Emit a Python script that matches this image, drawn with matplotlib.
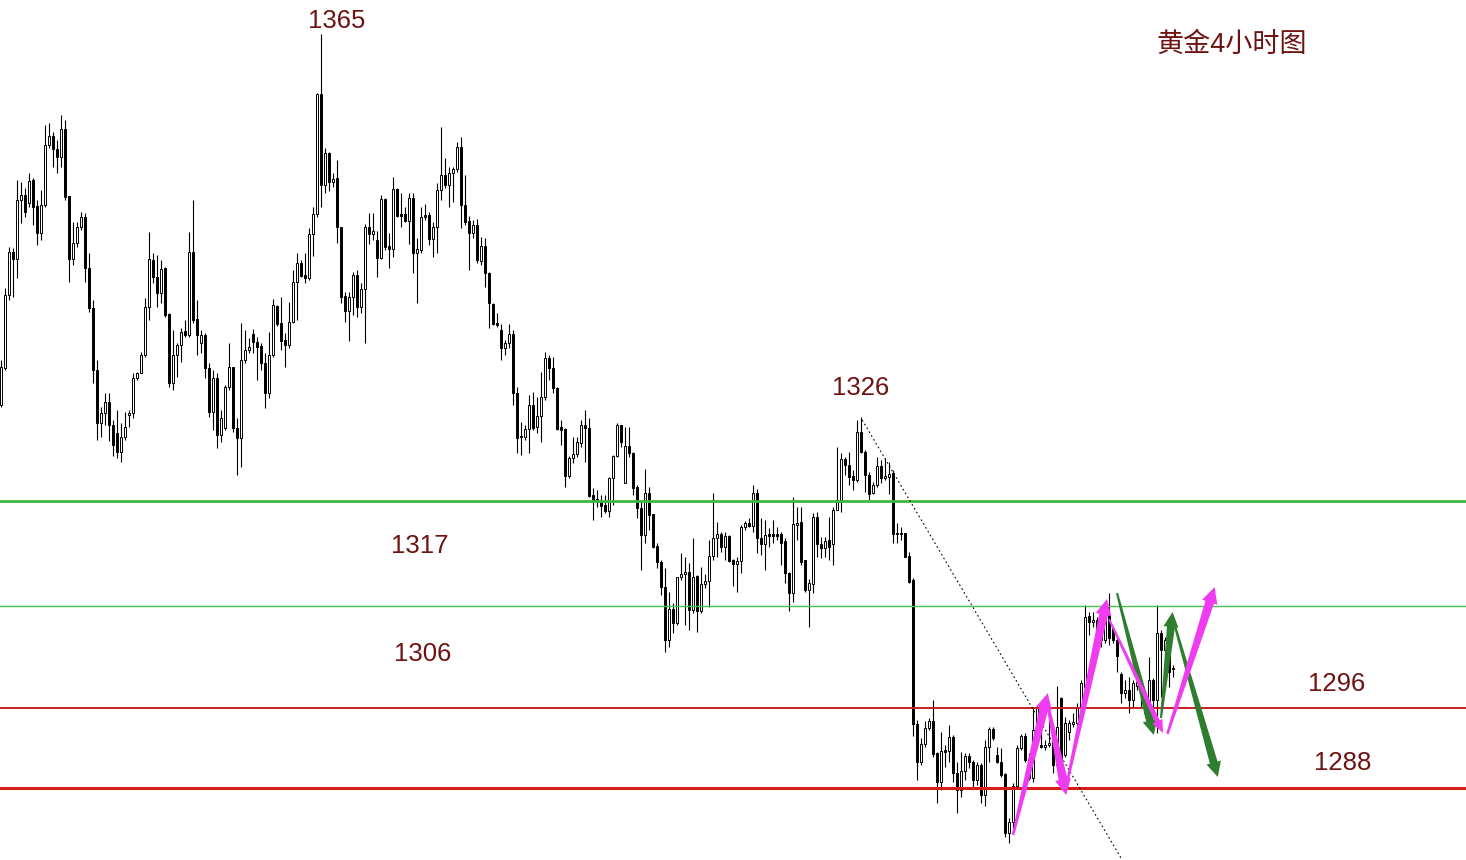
import numpy as np
import matplotlib
matplotlib.use("Agg")
import matplotlib.pyplot as plt
from matplotlib.patches import Polygon

# 4h gold candles (index = bar number)
opens = [
    1326.6, 1330.3, 1337.6, 1341.9, 1341.2, 1347.1, 1347.6, 1346.8, 1349.1, 1346.5,
    1343.8, 1346.6, 1352.6, 1353.5, 1352.2, 1351.4, 1354.2, 1347.5, 1341.2, 1342.8,
    1344.4, 1345.4, 1340.3, 1336.3, 1330.1, 1324.8, 1325.8, 1326.9, 1324.6, 1323.8,
    1321.9, 1323.4, 1325.6, 1325.8, 1329.3, 1329.8, 1331.6, 1336.4, 1341.1, 1339.4,
    1337.8, 1340.3, 1335.7, 1328.8, 1331.6, 1332.6, 1334.0, 1333.6, 1341.9, 1335.2,
    1332.8, 1333.6, 1330.3, 1325.9, 1329.3, 1323.6, 1324.3, 1328.4, 1330.4, 1324.3,
    1323.3, 1331.1, 1332.1, 1333.7, 1332.9, 1332.5, 1330.8, 1327.8, 1331.6, 1336.5,
    1334.8, 1333.1, 1332.6, 1334.9, 1338.9, 1340.8, 1339.6, 1339.3, 1343.7, 1345.7,
    1357.7, 1348.6, 1351.8, 1348.9, 1349.3, 1344.4, 1337.5, 1336.0, 1337.4, 1339.6,
    1336.4, 1338.2, 1344.4, 1343.7, 1343.1, 1341.3, 1347.2, 1342.5, 1342.2, 1348.2,
    1345.7, 1345.7, 1345.0, 1347.3, 1341.8, 1342.1, 1345.6, 1345.6, 1343.2, 1344.4,
    1348.1, 1349.6, 1348.6, 1349.8, 1350.2, 1352.4, 1346.6, 1345.0, 1343.8, 1344.6,
    1341.0, 1342.5, 1339.8, 1336.7, 1334.8, 1334.1, 1332.3, 1332.8, 1333.7, 1327.8,
    1323.5, 1323.4, 1324.2, 1326.6, 1324.4, 1325.5, 1327.4, 1331.3, 1330.3, 1328.3,
    1324.4, 1324.2, 1319.5, 1321.3, 1321.7, 1322.8, 1324.6, 1324.3, 1317.6, 1317.2,
    1317.0, 1316.6, 1316.0, 1319.3, 1321.5, 1324.6, 1318.8, 1322.5, 1321.8, 1318.4,
    1316.3, 1313.6, 1317.8, 1315.7, 1312.5, 1310.9, 1308.4, 1303.1, 1306.2, 1304.8,
    1309.4, 1309.7, 1309.9, 1306.1, 1309.5, 1306.0, 1308.7, 1309.0, 1311.5, 1313.3,
    1313.7, 1312.4, 1313.5, 1311.1, 1310.7, 1311.0, 1314.4, 1314.8, 1314.5, 1317.8,
    1313.3, 1312.7, 1313.7, 1313.7, 1313.7, 1313.7, 1313.0, 1309.8, 1307.8, 1314.6,
    1314.9, 1311.1, 1308.1, 1308.7, 1315.4, 1312.7, 1312.3, 1313.1, 1312.7, 1316.1,
    1317.1, 1321.2, 1320.6, 1319.5, 1319.1, 1323.9, 1321.9, 1319.6, 1317.8, 1318.6,
    1320.5, 1319.3, 1319.4, 1319.8, 1313.8, 1313.8, 1313.8, 1311.5, 1309.1, 1294.7,
    1290.9, 1292.7, 1294.3, 1295.0, 1291.8, 1288.9, 1292.1, 1292.0, 1293.4, 1289.8,
    1288.1, 1290.0, 1291.5, 1290.9, 1289.1, 1290.6, 1287.6, 1292.4, 1294.2, 1291.6,
    1290.9, 1289.7, 1283.8, 1284.9, 1288.5, 1292.3, 1293.5, 1291.2, 1289.3, 1294.1,
    1292.6, 1292.4, 1292.6, 1292.9, 1290.6, 1297.3, 1291.6, 1293.9, 1294.7, 1294.8,
    1296.3, 1298.4, 1305.5, 1304.9, 1305.1, 1304.4, 1303.1, 1305.6, 1304.3, 1303.1,
    1299.7, 1297.8, 1298.1, 1297.1, 1298.5, 1298.9, 1297.8, 1295.8, 1299.1, 1297.1,
    1303.8, 1302.1, 1303.1, 1300.2,
]
highs = [
    1331.1, 1338.3, 1342.4, 1342.3, 1349.1, 1348.9, 1348.3, 1349.8, 1349.3, 1347.1,
    1348.1, 1354.6, 1354.8, 1353.9, 1353.1, 1355.6, 1355.1, 1347.5, 1344.9, 1344.9,
    1345.9, 1345.8, 1341.8, 1337.1, 1331.1, 1326.4, 1327.8, 1327.8, 1325.1, 1326.1,
    1324.8, 1325.9, 1326.1, 1329.8, 1329.9, 1331.9, 1337.3, 1343.9, 1341.8, 1341.6,
    1341.1, 1340.4, 1335.8, 1334.1, 1332.8, 1334.3, 1335.1, 1343.9, 1347.1, 1337.1,
    1334.1, 1333.8, 1330.8, 1330.1, 1329.8, 1326.1, 1328.6, 1332.8, 1330.4, 1325.3,
    1334.8, 1334.1, 1333.3, 1334.2, 1333.4, 1332.8, 1331.8, 1333.9, 1337.2, 1336.6,
    1337.4, 1333.8, 1336.9, 1340.1, 1341.8, 1341.1, 1341.8, 1344.3, 1346.4, 1357.8,
    1363.7, 1352.3, 1351.9, 1349.8, 1351.1, 1344.4, 1337.9, 1337.9, 1339.9, 1340.1,
    1338.8, 1344.7, 1345.8, 1345.8, 1344.0, 1347.6, 1347.3, 1343.8, 1349.4, 1348.3,
    1347.8, 1346.4, 1347.8, 1347.8, 1343.3, 1346.4, 1346.7, 1345.9, 1344.9, 1348.8,
    1354.4, 1351.3, 1350.4, 1350.4, 1352.9, 1353.4, 1349.6, 1345.5, 1345.1, 1345.2,
    1343.4, 1343.3, 1339.9, 1336.8, 1335.8, 1334.7, 1333.1, 1334.7, 1334.1, 1328.4,
    1324.9, 1324.6, 1327.6, 1327.9, 1327.4, 1329.9, 1331.9, 1331.6, 1331.4, 1328.4,
    1325.1, 1324.3, 1321.5, 1323.4, 1323.4, 1325.1, 1326.1, 1325.3, 1318.3, 1318.1,
    1317.6, 1317.6, 1319.4, 1321.6, 1324.8, 1324.6, 1324.4, 1324.4, 1321.9, 1318.6,
    1316.9, 1320.2, 1318.4, 1315.7, 1312.8, 1311.1, 1310.3, 1307.9, 1306.8, 1309.4,
    1311.8, 1311.4, 1310.8, 1313.3, 1309.6, 1310.4, 1309.7, 1313.1, 1317.8, 1314.9,
    1313.9, 1313.9, 1313.6, 1311.2, 1311.4, 1314.6, 1315.0, 1315.3, 1318.6, 1318.2,
    1315.3, 1315.1, 1314.3, 1315.1, 1314.4, 1313.9, 1313.3, 1309.9, 1317.4, 1316.4,
    1316.4, 1311.1, 1309.2, 1315.8, 1315.9, 1313.4, 1313.4, 1315.4, 1316.4, 1322.4,
    1321.8, 1321.4, 1321.9, 1320.1, 1325.1, 1325.4, 1322.1, 1319.9, 1318.9, 1321.4,
    1321.1, 1321.3, 1320.9, 1320.1, 1314.8, 1314.4, 1313.8, 1311.9, 1309.3, 1295.1,
    1293.3, 1295.0, 1295.3, 1297.1, 1291.9, 1293.9, 1292.6, 1294.6, 1293.6, 1290.9,
    1291.9, 1291.8, 1291.8, 1291.1, 1290.9, 1290.8, 1293.1, 1294.4, 1294.4, 1292.4,
    1292.3, 1289.8, 1285.3, 1288.8, 1292.6, 1293.7, 1293.8, 1291.8, 1296.4, 1296.6,
    1294.1, 1293.1, 1295.1, 1293.1, 1298.5, 1297.4, 1295.4, 1295.1, 1295.8, 1296.8,
    1299.1, 1306.6, 1305.9, 1305.9, 1305.4, 1304.8, 1306.6, 1307.8, 1304.4, 1303.3,
    1299.9, 1299.1, 1299.4, 1299.1, 1299.8, 1299.1, 1298.1, 1301.4, 1299.3, 1306.6,
    1304.1, 1303.4, 1304.1, 1300.6,
]
lows = [
    1326.4, 1330.1, 1337.1, 1337.4, 1339.3, 1344.8, 1345.4, 1346.4, 1344.6, 1342.6,
    1343.1, 1346.4, 1352.3, 1350.4, 1349.8, 1350.4, 1347.1, 1338.9, 1340.6, 1342.4,
    1344.1, 1338.9, 1335.9, 1328.8, 1323.1, 1323.4, 1324.6, 1323.0, 1321.5, 1321.3,
    1320.9, 1323.1, 1324.4, 1325.3, 1329.1, 1329.8, 1331.4, 1335.1, 1338.8, 1336.4,
    1336.8, 1335.4, 1328.4, 1328.1, 1329.4, 1330.9, 1333.4, 1333.4, 1334.8, 1331.6,
    1331.8, 1329.3, 1325.4, 1324.1, 1322.3, 1322.9, 1324.1, 1328.1, 1323.9, 1319.6,
    1320.4, 1330.8, 1331.8, 1331.8, 1329.1, 1330.1, 1326.3, 1327.3, 1331.4, 1334.5,
    1332.1, 1330.4, 1332.3, 1334.8, 1335.1, 1339.4, 1338.8, 1339.1, 1341.5, 1345.4,
    1346.4, 1347.8, 1348.0, 1348.4, 1342.8, 1336.8, 1334.9, 1333.0, 1335.6, 1335.4,
    1335.8, 1332.8, 1342.7, 1343.1, 1339.4, 1341.2, 1342.1, 1340.3, 1341.4, 1345.4,
    1344.4, 1344.9, 1342.7, 1339.8, 1336.8, 1341.8, 1345.1, 1342.6, 1341.4, 1341.8,
    1347.1, 1348.3, 1346.4, 1346.9, 1349.9, 1344.3, 1344.6, 1340.1, 1343.3, 1340.8,
    1340.6, 1338.4, 1334.3, 1334.6, 1334.4, 1331.1, 1331.6, 1332.3, 1326.6, 1321.8,
    1321.6, 1323.1, 1321.8, 1324.1, 1323.8, 1322.9, 1327.1, 1329.1, 1327.8, 1324.1,
    1322.6, 1318.4, 1319.3, 1320.8, 1321.4, 1322.4, 1320.9, 1317.4, 1315.1, 1316.4,
    1315.4, 1315.8, 1315.4, 1316.6, 1321.4, 1322.4, 1318.8, 1321.4, 1317.6, 1315.3,
    1310.1, 1312.8, 1314.1, 1312.3, 1310.3, 1307.6, 1301.9, 1302.4, 1303.8, 1304.6,
    1309.1, 1304.6, 1304.1, 1305.8, 1303.9, 1305.8, 1308.3, 1306.4, 1311.1, 1311.4,
    1311.9, 1311.1, 1310.9, 1308.5, 1307.9, 1309.8, 1314.1, 1314.4, 1313.9, 1311.8,
    1311.6, 1310.1, 1312.4, 1312.8, 1313.1, 1310.6, 1308.8, 1306.0, 1306.9, 1313.1,
    1310.6, 1307.9, 1304.4, 1307.8, 1311.4, 1311.3, 1311.4, 1311.1, 1310.6, 1316.1,
    1315.9, 1319.6, 1318.6, 1318.1, 1318.9, 1321.8, 1317.9, 1317.1, 1317.7, 1318.4,
    1318.8, 1319.1, 1317.7, 1312.8, 1312.8, 1313.1, 1311.4, 1308.8, 1293.5, 1289.1,
    1290.6, 1292.4, 1294.1, 1291.4, 1286.8, 1288.1, 1290.4, 1290.9, 1288.9, 1285.8,
    1287.4, 1289.1, 1290.3, 1288.4, 1288.6, 1286.8, 1286.5, 1290.9, 1293.1, 1290.8,
    1289.4, 1283.4, 1282.8, 1284.3, 1288.3, 1292.1, 1290.9, 1289.1, 1288.9, 1293.8,
    1292.3, 1292.1, 1292.4, 1289.8, 1290.4, 1289.4, 1291.4, 1293.1, 1294.4, 1294.4,
    1296.3, 1298.1, 1303.6, 1304.4, 1303.4, 1302.4, 1302.8, 1302.6, 1302.8, 1299.9,
    1296.8, 1297.3, 1295.8, 1296.4, 1298.1, 1296.4, 1295.4, 1295.4, 1295.9, 1293.8,
    1297.4, 1299.1, 1298.4, 1299.4,
]
closes = [
    1330.4, 1337.6, 1341.9, 1341.2, 1347.1, 1347.6, 1345.9, 1349.0, 1346.4, 1343.8,
    1346.6, 1352.6, 1353.5, 1352.2, 1351.4, 1354.2, 1347.4, 1341.2, 1342.8, 1344.4,
    1345.4, 1340.3, 1336.3, 1330.1, 1324.8, 1325.8, 1326.9, 1324.6, 1322.6, 1321.9,
    1323.4, 1324.4, 1325.8, 1329.3, 1329.8, 1331.6, 1336.4, 1341.2, 1339.4, 1337.8,
    1340.2, 1335.6, 1328.8, 1331.6, 1332.6, 1333.9, 1333.6, 1341.9, 1335.1, 1333.6,
    1333.6, 1330.3, 1325.9, 1329.3, 1323.6, 1325.3, 1328.4, 1330.4, 1324.3, 1323.3,
    1331.1, 1332.1, 1332.4, 1332.9, 1332.4, 1330.8, 1327.8, 1331.6, 1336.6, 1334.7,
    1333.0, 1332.6, 1334.9, 1338.9, 1340.8, 1339.5, 1339.3, 1343.7, 1345.7, 1357.7,
    1348.6, 1351.8, 1348.9, 1349.2, 1344.4, 1337.4, 1336.0, 1337.4, 1339.6, 1336.4,
    1338.2, 1344.4, 1343.7, 1344.0, 1341.3, 1347.2, 1342.4, 1342.2, 1348.2, 1345.5,
    1345.5, 1345.0, 1347.3, 1341.8, 1342.2, 1345.4, 1345.4, 1343.2, 1344.4, 1348.1,
    1349.6, 1348.6, 1349.8, 1350.2, 1352.4, 1346.6, 1344.9, 1343.8, 1344.6, 1341.1,
    1342.5, 1339.8, 1336.8, 1334.7, 1334.6, 1332.3, 1332.8, 1333.7, 1327.8, 1323.3,
    1323.4, 1324.2, 1326.6, 1324.3, 1325.5, 1327.4, 1331.3, 1330.3, 1328.3, 1324.2,
    1324.1, 1319.5, 1321.3, 1321.7, 1322.9, 1324.6, 1324.3, 1317.5, 1317.1, 1316.9,
    1316.5, 1316.0, 1319.3, 1321.5, 1324.6, 1322.9, 1322.5, 1321.8, 1318.3, 1316.3,
    1313.6, 1317.8, 1315.6, 1312.4, 1310.9, 1308.4, 1303.1, 1306.2, 1304.8, 1309.4,
    1309.7, 1309.9, 1306.1, 1309.4, 1306.0, 1308.7, 1309.0, 1311.5, 1313.3, 1313.7,
    1312.4, 1313.5, 1311.0, 1310.7, 1311.0, 1314.4, 1314.8, 1314.5, 1317.8, 1313.3,
    1312.7, 1313.6, 1313.5, 1313.5, 1313.5, 1312.8, 1309.8, 1307.8, 1314.7, 1314.8,
    1310.9, 1308.1, 1308.8, 1315.4, 1312.7, 1312.3, 1313.0, 1312.4, 1316.1, 1317.1,
    1321.2, 1320.6, 1319.4, 1319.1, 1323.9, 1321.9, 1319.6, 1317.7, 1318.6, 1320.5,
    1319.3, 1319.5, 1319.7, 1313.7, 1313.7, 1313.7, 1311.4, 1308.9, 1294.7, 1290.9,
    1292.7, 1294.3, 1295.0, 1291.7, 1288.9, 1292.0, 1291.9, 1293.4, 1289.8, 1288.1,
    1290.0, 1291.5, 1290.9, 1289.1, 1290.6, 1287.6, 1292.4, 1294.2, 1293.3, 1290.9,
    1289.6, 1283.8, 1284.9, 1288.5, 1292.3, 1293.5, 1291.1, 1289.3, 1294.1, 1296.3,
    1292.4, 1292.6, 1292.8, 1290.6, 1294.4, 1290.6, 1294.8, 1294.8, 1294.9, 1296.3,
    1298.8, 1305.4, 1304.9, 1305.1, 1303.6, 1303.1, 1305.4, 1303.3, 1303.1, 1301.5,
    1297.8, 1298.1, 1297.1, 1298.8, 1298.9, 1297.8, 1295.8, 1299.1, 1297.1, 1303.8,
    1302.1, 1303.1, 1299.9, 1300.3,
]

# horizontal levels
levels = [1317.0, 1306.5, 1296.3, 1288.3]
level_colors = ["#3fb83f", "#4cbf4c", "#c42020", "#d81c1c"]
level_widths = [2.0, 1.0, 1.4, 2.2]

# price labels
label_texts = ["1365", "1326", "1317", "1306", "1296", "1288"]
label_x = [84.0, 214.8, 104.8, 105.3, 333.8, 335.5]
label_y = [1365.0, 1328.3, 1312.5, 1301.7, 1298.7, 1290.8]

# trend line (bar, price)
trend_x = [215.3, 280.0]
trend_y = [1325.1, 1281.3]

# hand-drawn arrows: start, end (bar, price)
pink_arrows = [
    ((253.0, 1283.6), (261.7, 1297.8)),
    ((261.5, 1297.0), (266.3, 1287.6)),
    ((266.5, 1288.8), (276.5, 1307.2)),
    ((277.0, 1305.2), (290.5, 1293.8)),
    ((291.6, 1293.7), (303.4, 1308.4)),
]
green_arrows = [
    ((279.0, 1307.8), (288.2, 1293.6)),
    ((290.0, 1295.3), (292.9, 1305.9)),
    ((293.0, 1305.2), (304.2, 1289.4)),
]

plt.rcParams['font.family'] = ['Liberation Sans', 'Noto Sans CJK SC', 'DejaVu Sans']

fig = plt.figure(figsize=(14.66, 8.6), dpi=100)
ax = fig.add_axes([0, 0, 1, 1])
ax.set_xlim(-0.25, 366.25)
ax.set_ylim(1281.1, 1367.1)
ax.axis('off')

o = np.array(opens)
h = np.array(highs)
l = np.array(lows)
c = np.array(closes)
x = np.arange(len(o))

ax.vlines(x, l, h, color='black', lw=0.8, zorder=2)
bottoms = np.minimum(o, c)
heights = np.maximum(np.abs(c - o), 0.12)
body_col = np.where(c < o, 'black', 'white')
ax.bar(x, heights, bottom=bottoms, width=0.7, color=body_col,
       edgecolor='black', linewidth=0.7, zorder=3)

for lv, col, w in zip(levels, level_colors, level_widths):
    ax.axhline(lv, color=col, lw=w, zorder=4)

ax.plot(trend_x, trend_y, color='black', lw=0.8, ls=(0, (1.5, 2.5)), zorder=4)

for t, tx, ty in zip(label_texts, label_x, label_y):
    ax.text(tx, ty, t, fontsize=18.5, color='#6e1212', ha='center', va='center',
            family='Liberation Sans')
ax.text(307.8, 1362.6, '黄金4小时图', fontsize=19.5, color='#6e1212', ha='center',
        va='center', fontweight='light',
        family=['Liberation Sans', 'Noto Sans CJK SC', 'DejaVu Sans'])


def taper_arrow(p0, p1, color, w_tail, w_neck, head_w, head_len):
    tr = ax.transData
    a = tr.transform(p0)
    b = tr.transform(p1)
    d = b - a
    u = d / np.hypot(*d)
    n = np.array([-u[1], u[0]])
    neck = b - u * head_len
    pts = [a + n * w_tail / 2, neck + n * w_neck / 2, neck + n * head_w / 2, b,
           neck - n * head_w / 2, neck - n * w_neck / 2, a - n * w_tail / 2]
    pts = tr.inverted().transform(pts)
    ax.add_patch(Polygon(pts, closed=True, facecolor=color, edgecolor='none', zorder=6))


for p0, p1 in green_arrows:
    taper_arrow(p0, p1, '#2f7d2f', 2.0, 8, 15, 15)
for k, (p0, p1) in enumerate(pink_arrows):
    if k == 3:
        taper_arrow(p0, p1, '#f03cf0', 2.0, 5, 11, 13)
    else:
        taper_arrow(p0, p1, '#f03cf0', 2.5, 9, 16, 16)

fig.savefig('out.png', dpi=100)
